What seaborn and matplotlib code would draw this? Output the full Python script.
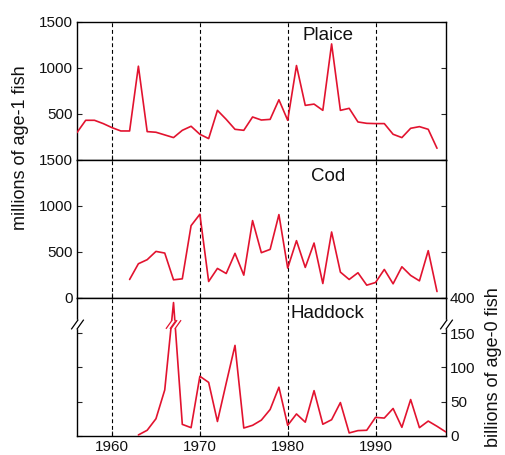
import numpy as np
import pandas as pd
import seaborn as sns
import matplotlib.pyplot as plt
from matplotlib.path import Path

# year-class strength
plaice_years = list(range(1956, 1998))
plaice = [296, 430, 430, 394, 350, 314, 314, 1018, 307, 300, 271, 242, 321, 365,
          278, 231, 538, 440, 332, 321, 466, 433, 440, 653, 430, 1025, 592, 606,
          538, 1260, 538, 560, 412, 397, 394, 394, 278, 242, 343, 361, 332, 126]

cod_years = list(range(1962, 1998))
cod = [200, 371, 415, 505, 487, 196, 207, 785, 909, 178, 320, 265, 484, 247, 840,
       491, 527, 905, 324, 622, 331, 596, 156, 716, 280, 200, 273, 138, 167, 309,
       153, 338, 244, 185, 513, 69]

haddock_years = list(range(1963, 1999))
haddock = [1.4, 8.2, 25, 67, 382, 16.8, 12, 87, 78, 21, 77, 132, 11.5, 15.4, 23,
           38.5, 71, 15.4, 32, 20, 66, 17, 23.6, 48.6, 4.3, 7.7, 8.2, 27, 26, 40,
           12.5, 53, 12, 21.6, 14, 5.8]

decades = [1960, 1970, 1980, 1990]
left_ticks = [0, 500, 1000, 1500]
haddock_ticks = [0, 50, 100, 150, 400]

RED = "#e2132f"

# broken y axis for haddock: 0..BRK linear, gap squeezed, upper part compressed
BRK, UP, GAP, SQ = 163, 300, 0.3, 0.38


def fwd(v):
    v = np.asarray(v, float)
    return np.where(v <= BRK, v,
                    np.where(v < UP, BRK + (v - BRK) * GAP / (UP - BRK),
                             BRK + GAP + (v - UP) * SQ))


def inv(t):
    t = np.asarray(t, float)
    return np.where(t <= BRK, t,
                    np.where(t < BRK + GAP, BRK + (t - BRK) * (UP - BRK) / GAP,
                             UP + (t - BRK - GAP) / SQ))


sns.set_style("ticks")
plt.rcParams['font.family'] = ['Liberation Sans', 'DejaVu Sans']
plt.rcParams['axes.linewidth'] = 1.0

fig, axes = plt.subplots(3, 1, figsize=(5.06, 4.55), dpi=100, sharex=True)
fig.subplots_adjust(left=0.152, right=0.881, bottom=0.042, top=0.952, hspace=0)

frames = [pd.DataFrame({'year': plaice_years, 'n': plaice}),
          pd.DataFrame({'year': cod_years, 'n': cod}),
          pd.DataFrame({'year': haddock_years, 'n': haddock})]
names = ["Plaice", "Cod", "Haddock"]
name_y = [0.869, 0.844, 0.853]

for ax, df, name, ny in zip(axes, frames, names, name_y):
    for d in decades:
        ax.axvline(d, color='black', lw=0.8, ls=(0, (3.5, 2.5)), zorder=1)
    sns.lineplot(data=df, x='year', y='n', ax=ax, color=RED, lw=1.2, zorder=3)
    ax.set_xlabel("")
    ax.set_ylabel("")
    ax.text(0.68, ny, name, transform=ax.transAxes, ha='center', va='baseline',
            fontsize=13.5, color='#111111')
    ax.tick_params(direction='in', length=3.5, width=0.8, labelsize=11,
                   left=True, right=True, top=False, bottom=True, pad=3,
                   labelcolor='#111111')
    ax.tick_params(axis='x', pad=3)
    for s in ax.spines.values():
        s.set_color('black')

ax1, ax2, ax3 = axes
ax1.set_xlim(1956, 1998)
ax1.set_xticks(decades)

ax1.set_ylim(0, 1500)
ax1.set_yticks(left_ticks)
ax1.set_yticklabels([""] + [str(t) for t in left_ticks[1:]])
ax2.set_ylim(0, 1500)
ax2.set_yticks(left_ticks)
ax2.set_yticklabels([str(t) for t in left_ticks])

ax3.set_yscale('function', functions=(fwd, inv))
ax3.set_ylim(0, 400)
ax3.set_yticks(haddock_ticks)
ax3.set_yticklabels([str(t) for t in haddock_ticks])
ax3.tick_params(labelleft=False, labelright=True, labelsize=11)
ax3.minorticks_off()

# break marks
slash = Path([(-0.9, -0.7), (0.1, 0.7), (-0.1, -0.7), (0.9, 0.7)],
             [Path.MOVETO, Path.LINETO, Path.MOVETO, Path.LINETO])
for xe in ax3.get_xlim():
    ax3.plot([xe], [BRK + 1], marker='s', ms=6, color='white', mec='white',
             clip_on=False, zorder=5)
    ax3.plot([xe], [BRK + 1], marker=slash, ms=9, mew=0.9, color='black',
             clip_on=False, zorder=6)

fy = fwd(haddock)
fb = fwd(BRK)
for i in range(len(haddock) - 1):
    a, b = fy[i], fy[i + 1]
    if (a - fb) * (b - fb) < 0:
        t = (fb - a) / (b - a)
        xb = haddock_years[i] + t * (haddock_years[i + 1] - haddock_years[i])
        ax3.plot([xb], [BRK], marker='s', ms=4, color='white', mec='white', zorder=5)
        ax3.plot([xb], [BRK], marker=slash, ms=8, mew=0.9, color=RED, zorder=6)

fig.text(21 / 506, 1 - 148 / 455, "millions of age-1 fish", rotation=90,
         ha='center', va='center', fontsize=13, color='#111111')
fig.text(494 / 506, 1 - 367 / 455, "billions of age-0 fish", rotation=90,
         ha='center', va='center', fontsize=13, color='#111111')

fig.savefig("out.png", dpi=100)
